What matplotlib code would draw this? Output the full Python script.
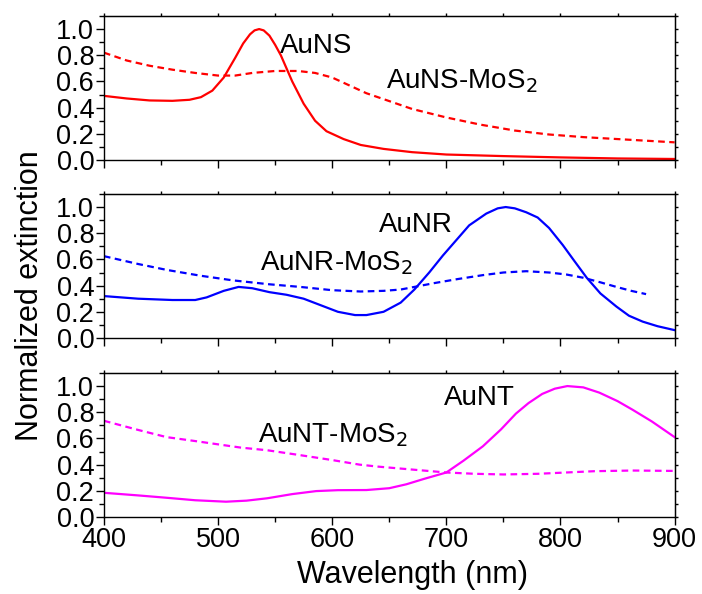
import matplotlib
matplotlib.use("Agg")
import matplotlib.pyplot as plt
from matplotlib.ticker import MultipleLocator, FormatStrFormatter

plt.rcParams['font.family'] = ['Liberation Sans', 'DejaVu Sans']

# AuNS panel
ns_x = [400, 420, 440, 460, 475, 485, 495, 505, 515, 522, 528, 532, 536, 540, 545, 550, 555, 560,
        565, 575, 585, 595, 610, 625, 645, 670, 700, 750, 800, 850, 900]
ns_y = [0.49, 0.47, 0.455, 0.452, 0.46, 0.48, 0.53, 0.63, 0.78, 0.89, 0.96, 0.99, 1.0, 0.99, 0.95,
        0.88, 0.80, 0.70, 0.60, 0.43, 0.30, 0.22, 0.16, 0.115, 0.085, 0.06, 0.042, 0.03, 0.02,
        0.012, 0.008]
nsm_x = [400, 420, 440, 460, 480, 500, 515, 530, 550, 570, 585, 600, 615, 630, 645, 670, 700, 730,
         760, 790, 820, 860, 900]
nsm_y = [0.82, 0.76, 0.72, 0.69, 0.665, 0.645, 0.645, 0.665, 0.68, 0.68, 0.665, 0.63, 0.57, 0.51,
         0.465, 0.39, 0.325, 0.27, 0.225, 0.195, 0.175, 0.155, 0.135]

# AuNR panel
nr_x = [400, 430, 460, 480, 490, 505, 518, 530, 545, 560, 575, 590, 605, 620, 630, 645, 660, 672,
        685, 697, 710, 720, 735, 745, 752, 760, 770, 780, 790, 802, 812, 823, 835, 849, 860, 872,
        885, 900]
nr_y = [0.32, 0.30, 0.29, 0.29, 0.31, 0.36, 0.39, 0.38, 0.35, 0.33, 0.30, 0.25, 0.20, 0.175, 0.175,
        0.20, 0.27, 0.37, 0.50, 0.63, 0.76, 0.86, 0.95, 0.99, 1.0, 0.99, 0.96, 0.92, 0.84, 0.71,
        0.59, 0.46, 0.34, 0.24, 0.17, 0.125, 0.09, 0.06]
nrm_x = [400, 430, 455, 485, 513, 545, 572, 600, 625, 645, 660, 675, 690, 710, 732, 750, 770, 790,
         805, 820, 835, 849, 862, 875]
nrm_y = [0.625, 0.565, 0.52, 0.475, 0.44, 0.41, 0.39, 0.365, 0.355, 0.36, 0.37, 0.395, 0.42, 0.45,
         0.48, 0.50, 0.51, 0.50, 0.485, 0.46, 0.425, 0.39, 0.36, 0.335]

# AuNT panel
nt_x = [400, 430, 455, 480, 507, 525, 543, 565, 586, 605, 630, 650, 665, 680, 700, 715, 732, 748,
        761, 772, 784, 795, 806, 820, 834, 850, 863, 880, 900]
nt_y = [0.185, 0.165, 0.147, 0.128, 0.117, 0.125, 0.143, 0.175, 0.198, 0.205, 0.206, 0.22, 0.25,
        0.29, 0.34, 0.43, 0.54, 0.67, 0.79, 0.87, 0.94, 0.98, 1.0, 0.99, 0.95, 0.885, 0.82, 0.73, 0.61]
ntm_x = [400, 430, 455, 480, 500, 520, 543, 570, 600, 624, 640, 660, 680, 700, 725, 750, 780, 805,
         830, 863, 900]
ntm_y = [0.735, 0.665, 0.61, 0.58, 0.555, 0.53, 0.51, 0.475, 0.435, 0.40, 0.385, 0.37, 0.355, 0.34,
         0.33, 0.325, 0.33, 0.34, 0.35, 0.355, 0.352]

panels = [
    (ns_x, ns_y, nsm_x, nsm_y, '#ff0000', 'AuNS', (554, 0.82), (647, 0.55)),
    (nr_x, nr_y, nrm_x, nrm_y, '#0000ff', 'AuNR', (641, 0.81), (537, 0.52)),
    (nt_x, nt_y, ntm_x, ntm_y, '#ff00ff', 'AuNT', (698, 0.855), (535, 0.57)),
]
bottoms = [0.7306, 0.431, 0.1296]

fig = plt.figure(figsize=(7.02, 5.94), dpi=100)
axes = []
for (x, y, xm, ym, c, name, p1, p2), b in zip(panels, bottoms):
    ax = fig.add_axes([0.148, b, 0.813, 0.2425])
    ax.plot(x, y, color=c, lw=1.6)
    ax.plot(xm, ym, color=c, lw=1.6, linestyle=(0, (3, 2)))
    ax.text(p1[0], p1[1], name, fontsize=20)
    ax.text(p2[0], p2[1], name + '-MoS$_2$', fontsize=20)
    ax.set_xlim(400, 900)
    ax.set_ylim(0, 1.1)
    ax.xaxis.set_major_locator(MultipleLocator(100))
    ax.xaxis.set_minor_locator(MultipleLocator(50))
    ax.yaxis.set_major_locator(MultipleLocator(0.2))
    ax.yaxis.set_minor_locator(MultipleLocator(0.1))
    ax.yaxis.set_major_formatter(FormatStrFormatter('%.1f'))
    ax.tick_params(which='major', direction='out', length=6, width=1, labelsize=19.5, pad=1)
    ax.tick_params(which='minor', direction='out', length=3.5, width=1)
    for s in ax.spines.values():
        s.set_linewidth(1)
    top = ax.secondary_xaxis('top')
    top.xaxis.set_major_locator(MultipleLocator(50))
    top.tick_params(direction='out', length=2.5, width=1, labeltop=False)
    right = ax.secondary_yaxis('right')
    right.yaxis.set_major_locator(MultipleLocator(0.1))
    right.tick_params(direction='out', length=2.5, width=1, labelright=False)
    axes.append(ax)

for ax in axes[:2]:
    ax.tick_params(labelbottom=False)

axes[2].set_xlabel('Wavelength (nm)', fontsize=22)
axes[2].xaxis.set_label_coords(0.54, -0.3)
fig.text(0.043, 0.503, 'Normalized extinction', rotation=90, fontsize=22, ha='center', va='center')

fig.savefig('out.png', dpi=100)
